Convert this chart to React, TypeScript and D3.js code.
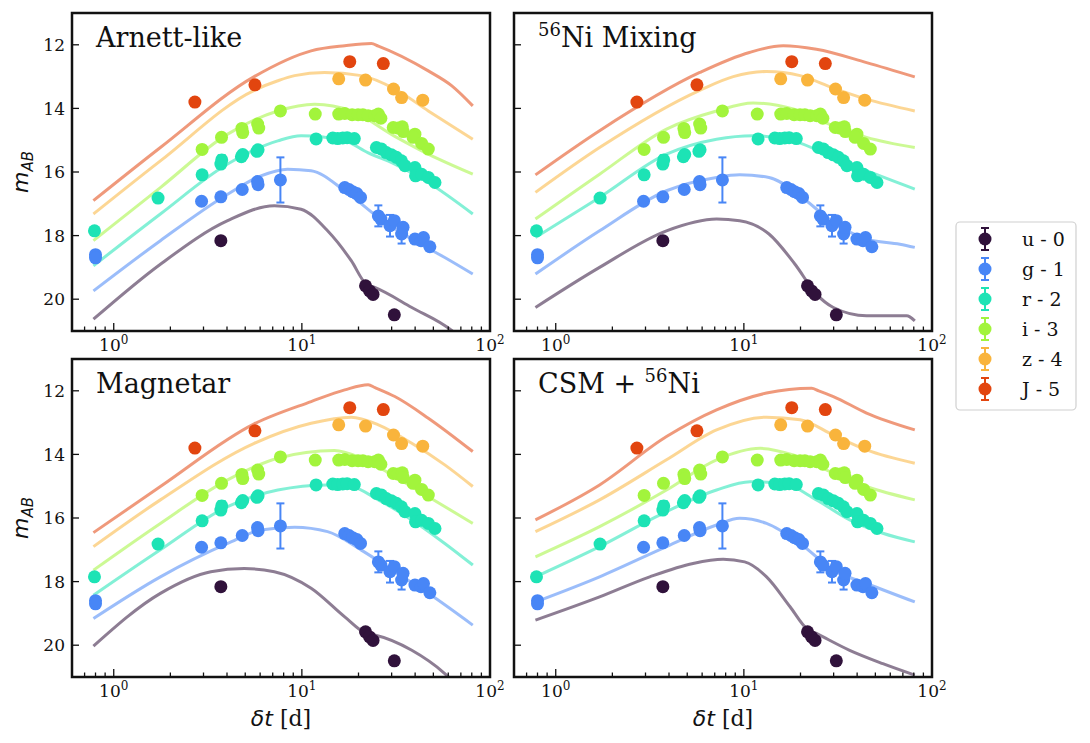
import * as d3 from "d3";
import React from "react";

// observed photometry: [days, mag, err]
const obsU = [[3.71, 18.16, 0], [21.8, 19.58, 0], [22.9, 19.74, 0], [23.9, 19.85, 0], [31.0, 20.49, 0]];
const obsG = [
  [0.8, 18.6, 0], [0.8, 18.7, 0], [2.93, 16.92, 0], [3.71, 16.78, 0], [4.82, 16.55, 0], [5.81, 16.3, 0],
  [5.85, 16.4, 0], [7.69, 16.25, 0.71], [16.9, 16.49, 0], [17.8, 16.55, 0], [18.6, 16.62, 0],
  [19.6, 16.68, 0], [20.5, 16.8, 0], [25.5, 17.38, 0.33], [26.3, 17.48, 0], [29.4, 17.69, 0.34],
  [31.0, 17.53, 0], [33.9, 17.95, 0.3], [34.5, 17.74, 0], [39.9, 18.11, 0], [43.0, 18.16, 0],
  [44.3, 18.06, 0], [47.9, 18.35, 0],
];
const obsR = [
  [0.79, 17.85, 0], [1.72, 16.82, 0], [2.95, 16.09, 0], [3.71, 15.75, 0], [3.75, 15.62, 0.15],
  [4.77, 15.52, 0], [4.85, 15.45, 0], [5.77, 15.35, 0], [5.85, 15.3, 0], [11.9, 14.96, 0],
  [14.6, 14.93, 0], [15.5, 14.95, 0], [16.5, 14.93, 0], [17.4, 14.92, 0], [19.0, 14.95, 0],
  [24.9, 15.23, 0], [26.5, 15.28, 0], [28.1, 15.39, 0], [29.9, 15.46, 0], [31.8, 15.54, 0],
  [33.8, 15.65, 0], [35.3, 15.8, 0], [39.9, 15.86, 0], [40.2, 16.12, 0], [43.3, 16.07, 0],
  [47.0, 16.17, 0], [51.0, 16.33, 0],
];
const obsI = [
  [2.95, 15.29, 0], [3.74, 14.91, 0], [4.8, 14.63, 0], [4.85, 14.76, 0], [5.82, 14.49, 0],
  [5.9, 14.62, 0], [7.69, 14.08, 0], [11.78, 14.18, 0], [15.7, 14.18, 0], [16.9, 14.16, 0],
  [18.5, 14.2, 0], [19.9, 14.2, 0], [21.1, 14.2, 0], [22.5, 14.23, 0], [24.4, 14.23, 0],
  [25.5, 14.18, 0], [26.3, 14.31, 0], [30.6, 14.6, 0], [32.5, 14.62, 0], [34.2, 14.58, 0],
  [34.6, 14.73, 0], [39.9, 14.81, 0], [39.0, 14.91, 0], [43.3, 15.1, 0], [47.0, 15.28, 0],
];
const obsZ = [[15.7, 13.07, 0], [21.8, 13.11, 0], [30.7, 13.39, 0], [33.9, 13.66, 0], [43.9, 13.74, 0]];
const obsJ = [[2.7, 13.8, 0], [5.63, 13.26, 0], [17.97, 12.53, 0], [27.1, 12.59, 0]];

// model light curves: [days, mag]
const arnettU = [[0.78, 20.63], [1.77, 18.9], [4.03, 17.53], [7.14, 17.06], [9.9, 17.17], [13.7, 17.85], [18.3, 18.79], [22, 19.53], [24.4, 19.63], [38.4, 20.26], [62.8, 20.99], [81, 21.6]];
const arnettG = [[0.78, 19.74], [1.77, 18.16], [4.03, 16.7], [6.06, 16.12], [8.4, 15.91], [11.2, 15.96], [16.9, 16.59], [25.5, 17.43], [38.4, 18.11], [57.5, 18.69], [81, 19.21]];
const arnettR = [[0.78, 18.95], [1.77, 17.32], [4.03, 15.75], [7.45, 15.02], [9.9, 14.86], [16.9, 15.02], [22.4, 15.39], [31.2, 15.75], [47, 16.33], [81, 17.32]];
const arnettI = [[0.78, 18.16], [1.77, 16.49], [4.03, 14.81], [7.45, 14.08], [11.7, 13.87], [18.3, 14.08], [31.2, 14.88], [47, 15.44], [81, 16.07]];
const arnettZ = [[0.78, 17.32], [1.77, 15.65], [5.58, 13.43], [7.45, 13.13], [9.15, 12.97], [13.2, 12.87], [20.7, 12.97], [31.2, 13.39], [47, 14.08], [81, 14.97]];
const arnettJ = [[0.78, 16.9], [1.77, 15.23], [5.58, 13.0], [11.2, 12.19], [16.9, 12.03], [23.4, 11.96], [25.5, 12.04], [47, 12.82], [62.7, 13.29], [81, 13.92]];

const mixingU = [[0.78, 20.26], [1.71, 19.0], [3.88, 17.85], [7.16, 17.48], [9.5, 17.53], [13.6, 17.95], [18.7, 18.9], [24.3, 19.84], [29.9, 20.26], [44.9, 20.52], [73.3, 20.52], [81, 20.68]];
const mixingG = [[0.78, 19.21], [1.71, 17.85], [3.88, 16.59], [7.16, 16.17], [9.5, 16.09], [13.6, 16.17], [20.4, 16.8], [29.9, 17.59], [44.9, 18.11], [67.5, 18.27], [81, 18.37]];
const mixingR = [[0.78, 18.06], [1.71, 16.8], [3.88, 15.44], [7.16, 14.97], [11.2, 14.86], [18.3, 15.02], [29.9, 15.54], [44.9, 15.96], [81, 16.54]];
const mixingI = [[0.78, 17.48], [1.71, 16.07], [3.88, 14.65], [7.16, 14.08], [11.2, 13.83], [18.3, 14.02], [29.9, 14.55], [44.9, 14.91], [81, 15.23]];
const mixingZ = [[0.78, 16.64], [1.71, 15.23], [5.83, 13.43], [8.78, 13.0], [13.2, 12.84], [19.9, 12.97], [29.9, 13.36], [44.9, 13.71], [81, 14.08]];
const mixingJ = [[0.78, 16.09], [1.71, 14.7], [5.83, 12.87], [10.7, 12.24], [16.2, 12.03], [24.3, 12.14], [44.9, 12.56], [81, 13.01]];

const magnetarU = [[0.78, 20.03], [1.77, 18.37], [3.28, 17.69], [4.94, 17.59], [7.14, 17.69], [11.2, 18.21], [16.9, 19.11], [22, 19.63], [24.4, 19.68], [38.4, 20.16], [57.5, 20.89], [81, 21.8]];
const magnetarG = [[0.78, 19.16], [1.77, 17.85], [4.03, 16.8], [6.06, 16.38], [9.15, 16.29], [13.7, 16.43], [20.7, 17.01], [31.2, 17.69], [47, 18.37], [81, 19.37]];
const magnetarR = [[0.78, 18.43], [1.77, 17.0], [4.03, 15.64], [7.45, 15.12], [13.7, 14.96], [18.3, 15.01], [25.5, 15.43], [38.4, 16.06], [57.5, 16.8], [81, 17.48]];
const magnetarI = [[0.78, 17.64], [1.77, 16.17], [4.03, 14.8], [7.45, 14.12], [14.9, 13.88], [20.7, 14.12], [31.2, 14.7], [47, 15.33], [81, 16.17]];
const magnetarZ = [[0.78, 16.9], [1.77, 15.43], [5.58, 13.65], [11.2, 13.02], [18.3, 12.83], [25.5, 13.07], [38.4, 13.65], [57.5, 14.33], [81, 15.01]];
const magnetarJ = [[0.78, 16.46], [1.77, 15.01], [5.58, 13.04], [11.2, 12.34], [16.9, 11.97], [22.5, 11.81], [24.5, 11.9], [31.2, 12.18], [47, 12.86], [81, 13.91]];

const csmU = [[0.78, 19.21], [1.71, 18.48], [3.16, 17.85], [5.37, 17.43], [7.76, 17.3], [10.1, 17.38], [13.2, 17.85], [17.6, 18.79], [21.6, 19.48], [24.3, 19.63], [36.5, 20.16], [54.8, 20.58], [81, 20.94]];
const csmG = [[0.78, 18.64], [1.71, 17.85], [3.88, 16.9], [7.16, 16.22], [9.5, 16.01], [13.2, 16.17], [19.9, 16.8], [29.9, 17.64], [44.9, 18.06], [81, 18.64]];
const csmR = [[0.78, 17.85], [1.71, 16.9], [3.88, 15.8], [7.16, 15.12], [10.8, 14.86], [16.2, 14.91], [24.3, 15.43], [36.5, 16.06], [54.8, 16.48], [81, 16.75]];
const csmI = [[0.78, 17.22], [1.71, 16.27], [3.88, 15.12], [7.16, 14.17], [12.2, 13.81], [18.3, 14.02], [29.9, 14.59], [44.9, 15.01], [81, 15.43]];
const csmZ = [[0.78, 16.43], [1.71, 15.43], [3.88, 14.17], [7.16, 13.23], [13.2, 12.83], [19.9, 12.91], [29.9, 13.39], [44.9, 13.86], [81, 14.28]];
const csmJ = [[0.78, 16.06], [1.71, 14.96], [3.88, 13.44], [7.16, 12.6], [13.2, 12.07], [22.9, 11.92], [25, 12.0], [29.9, 12.18], [44.9, 12.7], [81, 13.23]];

const bandLabels = ["u - 0", "g - 1", "r - 2", "i - 3", "z - 4", "J - 5"];
const bandColors = ["#30123b", "#4886f6", "#1de3b5", "#a2f43c", "#f9b43c", "#e2450f"];
const observations = [obsU, obsG, obsR, obsI, obsZ, obsJ];

const yTicks = [12, 14, 16, 18, 20];
const xMajor = [1, 10, 100];
const xMinor = [0.7, 0.8, 0.9, 2, 3, 4, 5, 6, 7, 8, 9, 20, 30, 40, 50, 60, 70, 80, 90];

const panels = [
  { title: [["Arnett-like", false]], left: 72, top: 13, curves: [arnettU, arnettG, arnettR, arnettI, arnettZ, arnettJ] },
  { title: [["56", true], ["Ni Mixing", false]], left: 514, top: 13, curves: [mixingU, mixingG, mixingR, mixingI, mixingZ, mixingJ] },
  { title: [["Magnetar", false]], left: 72, top: 359, curves: [magnetarU, magnetarG, magnetarR, magnetarI, magnetarZ, magnetarJ] },
  { title: [["CSM + ", false], ["56", true], ["Ni", false]], left: 514, top: 359, curves: [csmU, csmG, csmR, csmI, csmZ, csmJ] },
];

const W = 418;
const H = 318;
const serif = "'DejaVu Serif', serif";
const sans = "'DejaVu Sans', sans-serif";

const x = d3.scaleLog().domain([0.6, 100]).range([0, W]);
const y = d3.scaleLinear().domain([11, 21]).range([0, H]);
const line = d3
  .line<number[]>()
  .x((d) => x(d[0]))
  .y((d) => y(d[1]))
  .curve(d3.curveMonotoneX);

const Title: React.FC<{ parts: any[] }> = ({ parts }) => {
  let dyPrev = 0;
  return (
    <text x={24} y={34} fontFamily={serif} fontSize={27} fill="#111">
      {parts.map(([s, sup]: [string, boolean], i: number) => {
        const dy = sup ? -11 - dyPrev : 0 - dyPrev;
        dyPrev = sup ? -11 : 0;
        return (
          <tspan key={i} dy={dy} fontSize={sup ? 18 : 27}>
            {s}
          </tspan>
        );
      })}
    </text>
  );
};

const Panel: React.FC<{ p: any; idx: number }> = ({ p, idx }) => {
  const clipId = `clip${idx}`;
  return (
    <g transform={`translate(${p.left},${p.top})`}>
      <clipPath id={clipId}>
        <rect x={0} y={0} width={W} height={H} />
      </clipPath>
      <g clipPath={`url(#${clipId})`}>
        {p.curves.map((c: number[][], i: number) => (
          <path key={i} d={line(c) || ""} fill="none" stroke={bandColors[i]} strokeWidth={3} strokeOpacity={0.55} />
        ))}
        {observations.map((obs, i) =>
          obs.map((d, j) => (
            <g key={`${i}-${j}`}>
              {d[2] > 0 && (
                <g stroke={bandColors[i]} strokeWidth={2}>
                  <line x1={x(d[0])} x2={x(d[0])} y1={y(d[1] - d[2])} y2={y(d[1] + d[2])} />
                  <line x1={x(d[0]) - 4} x2={x(d[0]) + 4} y1={y(d[1] - d[2])} y2={y(d[1] - d[2])} />
                  <line x1={x(d[0]) - 4} x2={x(d[0]) + 4} y1={y(d[1] + d[2])} y2={y(d[1] + d[2])} />
                </g>
              )}
              <circle cx={x(d[0])} cy={y(d[1])} r={6.5} fill={bandColors[i]} />
            </g>
          ))
        )}
      </g>
      <Title parts={p.title} />
      <g stroke="#111" strokeWidth={1.3}>
        {yTicks.map((t) => (
          <line key={t} x1={0} x2={7} y1={y(t)} y2={y(t)} />
        ))}
        {xMajor.map((t) => (
          <line key={t} x1={x(t)} x2={x(t)} y1={H} y2={H - 8} />
        ))}
        {xMinor.map((t) => (
          <line key={t} x1={x(t)} x2={x(t)} y1={H} y2={H - 4.5} />
        ))}
      </g>
      {idx % 2 === 0 &&
        yTicks.map((t) => (
          <text key={t} x={-7} y={y(t)} dy="0.36em" textAnchor="end" fontFamily={serif} fontSize={17} fill="#111">
            {t}
          </text>
        ))}
      {xMajor.map((t, i) => (
        <text key={t} x={x(t)} y={H + 20} textAnchor="middle" fontFamily={serif} fontSize={17} fill="#111">
          10
          <tspan dy={-7} fontSize={12}>
            {i}
          </tspan>
        </text>
      ))}
      <rect x={0} y={0} width={W} height={H} fill="none" stroke="#111" strokeWidth={2.5} />
    </g>
  );
};

const App: React.FC = () => {
  return (
    <div style={{ position: "absolute", left: 0, top: 0 }}>
      <svg width={1090} height={743} style={{ display: "block", background: "#fff" }}>
        {panels.map((p, i) => (
          <Panel key={i} p={p} idx={i} />
        ))}
        {[13, 359].map((top) => (
          <text key={top} transform={`translate(28,${top + H / 2}) rotate(-90)`} textAnchor="middle" fontFamily={sans} fontSize={22} fontStyle="italic" fill="#111">
            m
            <tspan dy={5} fontSize={15}>
              AB
            </tspan>
          </text>
        ))}
        {[72, 514].map((left) => (
          <text key={left} x={left + W / 2} y={726} textAnchor="middle" fontSize={22} fill="#111">
            <tspan fontFamily={sans} fontStyle="italic">δt</tspan>
            <tspan fontFamily={serif}> [d]</tspan>
          </text>
        ))}
        <g>
          <rect x={956} y={222} width={120} height={188} rx={4} fill="#fff" stroke="#d0d0d0" strokeWidth={1.2} />
          {bandLabels.map((lab, i) => {
            const cy = 239 + i * 30;
            return (
              <g key={lab}>
                <g stroke={bandColors[i]} strokeWidth={2}>
                  <line x1={985} x2={985} y1={cy - 11} y2={cy + 11} />
                  <line x1={981} x2={989} y1={cy - 11} y2={cy - 11} />
                  <line x1={981} x2={989} y1={cy + 11} y2={cy + 11} />
                </g>
                <circle cx={985} cy={cy} r={6.5} fill={bandColors[i]} />
                <text x={1022} y={cy} dy="0.36em" fontFamily={serif} fontSize={19} fill="#111">
                  {lab}
                </text>
              </g>
            );
          })}
        </g>
      </svg>
    </div>
  );
};

export default App;
